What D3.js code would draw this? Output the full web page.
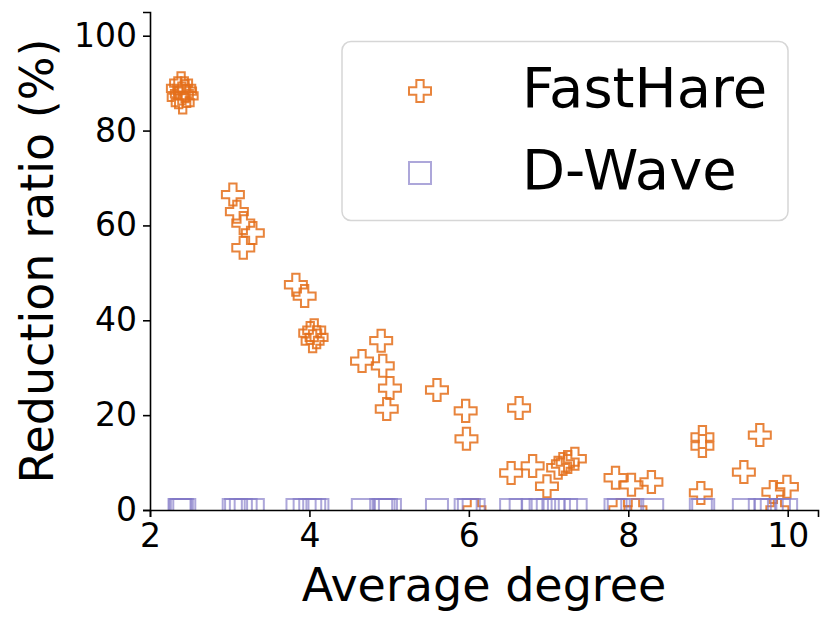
<!DOCTYPE html>
<html>
<head>
<meta charset="utf-8">
<script src="https://cdn.jsdelivr.net/npm/d3@7"></script>
<style>
  body { margin: 0; background: #fff; }
  text { font-family: "DejaVu Sans", sans-serif; }
</style>
</head>
<body>
<svg id="chart"></svg>
<script>
// FastHare reduction ratio per graph (average degree, %)
const fastHareDegree = [2.39, 2.35, 2.43, 2.40, 2.46, 2.36, 2.41, 2.44,
  3.04, 3.09, 3.17, 3.29, 3.17,
  3.83, 3.94, 4.01, 4.06, 4.09, 4.04,
  4.66, 4.90, 4.92, 4.97, 5.01,
  5.60,
  5.96, 5.97, 6.07,
  6.53, 6.63, 6.80, 6.98, 7.12, 7.18, 7.24, 7.33,
  7.84, 7.90, 8.04, 8.09, 8.29,
  8.93, 8.93, 8.91,
  9.45, 9.65, 9.82, 9.99, 9.87];
const fastHareRatio = [90.0, 88.9, 88.9, 87.8, 87.3, 87.0, 85.9, 88.3,
  66.5, 62.9, 60.5, 58.4, 55.3,
  47.5, 45.1, 37.3, 37.9, 36.4, 35.6,
  31.4, 35.7, 30.4, 21.3, 25.7,
  25.3,
  20.9, 15.0, 0,
  7.8, 21.5, 9.3, 5.0, 8.9, 9.7, 10.1, 10.8,
  6.8, 0, 5.3, 0, 5.9,
  15.4, 13.5, 3.6,
  8.0, 15.8, 3.8, 4.9, 0];

// D-Wave reduction ratio (all zero)
const dwaveDegree = [2.37, 2.40, 2.43, 2.38,
  3.05, 3.08, 3.14, 3.20, 3.29,
  3.85, 3.94, 4.01, 4.06, 4.10,
  4.67, 4.90, 4.93, 4.96, 5.01,
  5.60,
  5.96, 6.00, 6.06,
  6.53, 6.65, 6.80, 6.90, 6.99, 7.06, 7.13, 7.22, 7.34,
  7.84, 7.88, 8.05, 8.30,
  8.91, 8.94,
  9.45, 9.65, 9.72, 9.80, 9.89, 9.98];
const dwaveRatio = dwaveDegree.map(() => 0);

const xTicks = [2, 4, 6, 8, 10];
const yTicks = [0, 20, 40, 60, 80, 100];

const seriesNames = ["FastHare", "D-Wave"];
const seriesColors = ["#e46f1a", "#8178c6"];

const width = 830, height = 625;
const margin = {top: 12, right: 12, bottom: 115, left: 150};

const svg = d3.select("#chart")
    .attr("width", width)
    .attr("height", height);

const x = d3.scaleLinear()
    .domain([2, 10.38])
    .range([margin.left, width - margin.right]);

const y = d3.scaleLinear()
    .domain([0, 105])
    .range([height - margin.bottom, margin.top]);

svg.append("clipPath").attr("id", "plot-clip")
  .append("rect")
    .attr("x", margin.left)
    .attr("y", margin.top)
    .attr("width", width - margin.left - margin.right)
    .attr("height", height - margin.top - margin.bottom);

const plus = d3.symbol().type(d3.symbolCross).size(269);
const square = d3.symbol().type(d3.symbolSquare).size(484);

const marks = svg.append("g").attr("clip-path", "url(#plot-clip)");

marks.selectAll("path.fh")
    .data(fastHareDegree.map((d, i) => [d, fastHareRatio[i]]))
    .enter().append("path")
    .attr("class", "fh")
    .attr("d", plus)
    .attr("transform", d => `translate(${x(d[0])},${y(d[1])})`)
    .attr("fill", "none")
    .attr("stroke", seriesColors[0])
    .attr("stroke-opacity", 0.85)
    .attr("stroke-width", 2);

marks.selectAll("path.dw")
    .data(dwaveDegree.map((d, i) => [d, dwaveRatio[i]]))
    .enter().append("path")
    .attr("class", "dw")
    .attr("d", square)
    .attr("transform", d => `translate(${x(d[0])},${y(d[1])})`)
    .attr("fill", "none")
    .attr("stroke", seriesColors[1])
    .attr("stroke-opacity", 0.65)
    .attr("stroke-width", 2);

// axes
const xAxis = svg.append("g")
    .attr("transform", `translate(0,${y(0)})`)
    .call(d3.axisBottom(x).tickValues(xTicks).tickSizeOuter(0).tickSize(7).tickPadding(7));

const yAxis = svg.append("g")
    .attr("transform", `translate(${x(2)},0)`)
    .call(d3.axisLeft(y).tickValues(yTicks).tickSizeOuter(0).tickSize(7).tickPadding(6));

[xAxis, yAxis].forEach(g => {
    g.selectAll("text").attr("font-size", 33).attr("font-family", "DejaVu Sans").attr("fill", "#000");
    g.select(".domain").attr("stroke", "#000").attr("stroke-width", 1.6);
    g.selectAll(".tick line").attr("stroke", "#000").attr("stroke-width", 1.6);
});

svg.append("text")
    .attr("x", (margin.left + width - margin.right) / 2)
    .attr("y", 601)
    .attr("text-anchor", "middle")
    .attr("font-size", 46)
    .text("Average degree");

svg.append("text")
    .attr("transform", `translate(53,${(margin.top + height - margin.bottom) / 2}) rotate(-90)`)
    .attr("text-anchor", "middle")
    .attr("font-size", 46)
    .text("Reduction ratio (%)");

// legend
const legend = svg.append("g");
legend.append("rect")
    .attr("x", 342).attr("y", 41.5)
    .attr("width", 446).attr("height", 179)
    .attr("rx", 9)
    .attr("fill", "#fff").attr("fill-opacity", 0.8)
    .attr("stroke", "#d6d6d6").attr("stroke-width", 1.5);

const legendY = [91, 173];
seriesNames.forEach((name, i) => {
    legend.append("path")
        .attr("d", i === 0 ? plus : square)
        .attr("transform", `translate(420,${legendY[i]})`)
        .attr("fill", "none")
        .attr("stroke", seriesColors[i])
        .attr("stroke-opacity", i === 0 ? 0.85 : 0.65)
        .attr("stroke-width", 2);
    legend.append("text")
        .attr("x", 522)
        .attr("y", legendY[i] + 16)
        .attr("font-size", 56)
        .text(name);
});
</script>
</body>
</html>
